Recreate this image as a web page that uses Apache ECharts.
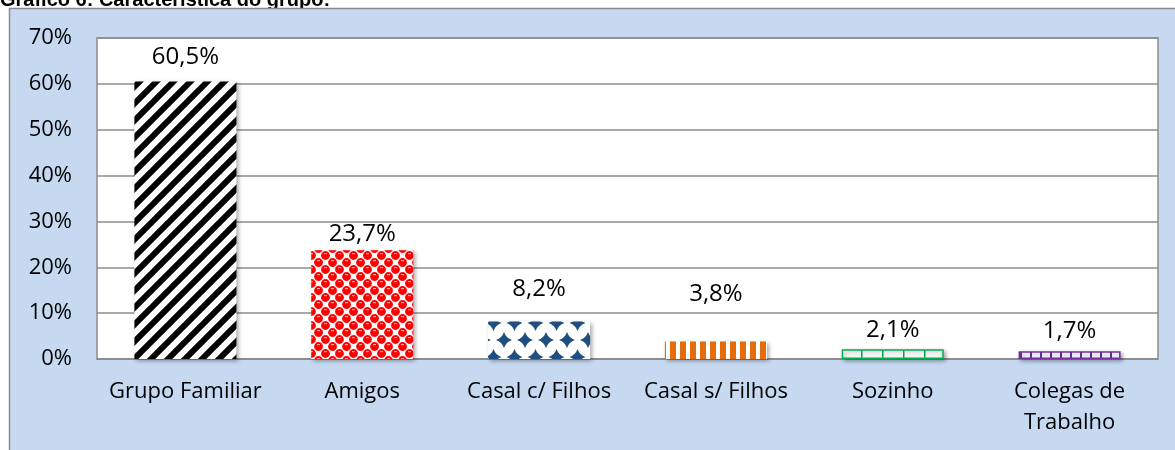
<!DOCTYPE html>
<html>
<head>
<meta charset="utf-8">
<script src="https://cdn.jsdelivr.net/npm/echarts@6/dist/echarts.min.js"></script>
<style>
html,body{margin:0;padding:0;background:#fff;}
#chart{width:1175px;height:450px;}
</style>
</head>
<body>
<div id="chart"></div>
<script>
const titleText = 'Gráfico 6: Característica do grupo:';
const categories = ['Grupo Familiar', 'Amigos', 'Casal c/ Filhos', 'Casal s/ Filhos', 'Sozinho', 'Colegas de\nTrabalho'];
const values = [60.5, 23.7, 8.2, 3.8, 2.1, 1.7];
const yMin = 0, yMax = 70, yStep = 10;

// label spacing above each bar (style, as placed in reference)
const labelGap = [12, 4, 20, 35, 7, 8];

function tile(w, h, draw) {
  const c = document.createElement('canvas');
  c.width = w; c.height = h;
  const ctx = c.getContext('2d');
  ctx.fillStyle = '#fff';
  ctx.fillRect(0, 0, w, h);
  draw(ctx, w, h);
  return { image: c, repeat: 'repeat' };
}

const patStripes = tile(17, 17, (ctx, w, h) => {
  ctx.strokeStyle = '#000';
  ctx.lineWidth = 6;
  ctx.lineCap = 'square';
  for (let k = -1; k <= 1; k++) {
    ctx.beginPath();
    ctx.moveTo(-2 + k * w, h + 2);
    ctx.lineTo(w + 2 + k * w, -2);
    ctx.stroke();
  }
});

const patSpheres = tile(14, 14, (ctx) => {
  const s = 3.5, S = 10.5;
  const centers = [[s, s], [S, S], [-s, S], [14 + s, s], [S, -s], [s, 14 + s], [-s, -s], [14 + s, 14 + s], [S - 14, S - 14]];
  ctx.fillStyle = '#ff0000';
  centers.forEach(([x, y]) => { ctx.beginPath(); ctx.arc(x, y, 4.4, 0, Math.PI * 2); ctx.fill(); });
  ctx.fillStyle = 'rgba(255,185,185,0.95)';
  centers.forEach(([x, y]) => { ctx.fillRect(x - 1.5, y - 2.4, 3, 1.1); });
});

const patDiamonds = tile(21, 34, (ctx, w, h) => {
  ctx.fillStyle = '#1f4e80';
  const pts = [[0, 0], [w, 0], [0, h], [w, h], [w / 2, h / 2]];
  pts.forEach(([x, y]) => {
    ctx.beginPath();
    ctx.moveTo(x - 8, y);
    ctx.quadraticCurveTo(x - 2, y - 2, x, y - 8);
    ctx.quadraticCurveTo(x + 2, y - 2, x + 8, y);
    ctx.quadraticCurveTo(x + 2, y + 2, x, y + 8);
    ctx.quadraticCurveTo(x - 2, y + 2, x - 8, y);
    ctx.fill();
  });
});

const patOrange = tile(10, 4, (ctx) => {
  ctx.fillStyle = '#e46c0a';
  ctx.fillRect(0, 0, 6, 4);
});

const patGreen = tile(21, 4, (ctx) => {
  ctx.fillStyle = '#00b050';
  ctx.fillRect(0, 0, 1.5, 4);
});

const patPurple = tile(10, 4, (ctx) => {
  ctx.fillStyle = '#7030a0';
  ctx.fillRect(0, 0, 2, 4);
});

const barStyles = [
  { color: patStripes },
  { color: patSpheres },
  { color: patDiamonds },
  { color: patOrange },
  { color: patGreen, borderColor: '#00b050', borderWidth: 1.5 },
  { color: patPurple, borderColor: '#7030a0', borderWidth: 1.5 }
];

const chart = echarts.init(document.getElementById('chart'), null, { renderer: 'canvas' });

const fontFam = '"Open Sans", "Liberation Sans", sans-serif';

chart.setOption({
  backgroundColor: '#ffffff',
  animation: false,
  graphic: [
    {
      type: 'text', left: 0, top: -10, z: 1,
      style: { text: titleText, font: 'bold 20px "Liberation Sans", Arial, sans-serif', fill: '#000' }
    },
    {
      type: 'rect', z: 2, silent: true,
      shape: { x: 9.5, y: 8.5, width: 1200, height: 500 },
      style: { fill: '#c6d9f1', stroke: '#8a8a8a', lineWidth: 1.5 }
    }
  ],
  grid: {
    left: 97, right: 17, top: 38, bottom: 91,
    show: true, backgroundColor: '#ffffff', borderColor: '#8c8c8c', borderWidth: 1.5, z: 3
  },
  xAxis: {
    type: 'category',
    data: categories,
    axisLine: { show: true, lineStyle: { color: '#8c8c8c', width: 1.5 } },
    axisTick: { show: false },
    axisLabel: {
      margin: 17, color: '#000', fontSize: 22, fontFamily: fontFam, lineHeight: 31, interval: 0
    },
    z: 5
  },
  yAxis: {
    type: 'value',
    min: yMin, max: yMax, interval: yStep,
    axisLine: { show: false },
    axisTick: { show: false },
    splitLine: { show: true, lineStyle: { color: '#8c8c8c', width: 1.5 } },
    axisLabel: {
      margin: 25, color: '#000', fontSize: 22, fontFamily: fontFam,
      formatter: '{value}%'
    },
    z: 5
  },
  series: [{
    type: 'bar',
    barWidth: 102,
    z: 6,
    data: values.map((v, i) => ({
      value: v,
      itemStyle: Object.assign({
        shadowColor: 'rgba(0,0,0,0.35)', shadowBlur: 4, shadowOffsetX: 2, shadowOffsetY: 2
      }, barStyles[i]),
      label: { distance: labelGap[i] }
    })),
    label: {
      show: true, position: 'top', color: '#000', fontSize: 24, fontFamily: fontFam,
      formatter: p => p.value.toFixed(1).replace('.', ',') + '%'
    }
  }]
});
</script>
</body>
</html>
